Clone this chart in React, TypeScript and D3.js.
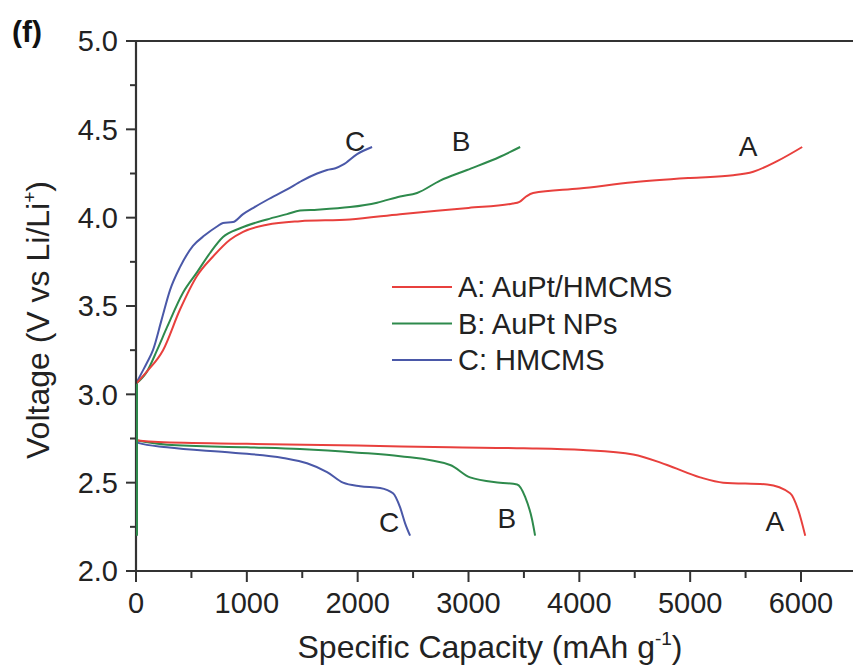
import React from "react";
import * as d3 from "d3";

// Charge curves (capacity mAh/g, voltage V)
const chargeA: [number, number][] = [
  [0, 3.06], [100, 3.13], [244, 3.25], [397, 3.48], [550, 3.67], [695, 3.78], [848, 3.875],
  [966, 3.92], [1182, 3.96], [1480, 3.98], [1931, 3.99], [2383, 4.02], [3000, 4.055],
  [3400, 4.08], [3460, 4.09], [3520, 4.12], [3583, 4.14], [4000, 4.165], [4486, 4.2],
  [5000, 4.225], [5388, 4.24], [5569, 4.26], [5785, 4.32], [6011, 4.4],
];
const chargeB: [number, number][] = [
  [0, 3.06], [100, 3.13], [190, 3.25], [280, 3.38], [424, 3.575], [550, 3.69],
  [668, 3.8], [785, 3.89], [939, 3.94], [1182, 3.99], [1363, 4.02], [1480, 4.04],
  [1634, 4.045], [1931, 4.06], [2175, 4.085], [2383, 4.12], [2536, 4.14], [2744, 4.21],
  [2987, 4.27], [3285, 4.345], [3466, 4.4],
];
const chargeC: [number, number][] = [
  [0, 3.06], [50, 3.12], [100, 3.18], [153, 3.25], [230, 3.42], [307, 3.59], [397, 3.72],
  [514, 3.84], [620, 3.9], [731, 3.95], [785, 3.97], [875, 3.975], [966, 4.02], [1070, 4.06],
  [1182, 4.1], [1363, 4.16], [1500, 4.21], [1634, 4.25], [1724, 4.27], [1800, 4.28],
  [1868, 4.3], [1995, 4.36], [2130, 4.4],
];
// Green segment drawn along the voltage axis at zero capacity
const verticalB: [number, number][] = [[0, 2.2], [0, 3.06]];

// Discharge curves
const dischargeA: [number, number][] = [
  [0, 2.74], [200, 2.73], [1000, 2.72], [2000, 2.71], [2834, 2.7], [3500, 2.695],
  [4034, 2.685], [4486, 2.66], [4792, 2.6], [5090, 2.53], [5298, 2.5], [5695, 2.49],
  [5902, 2.44], [5975, 2.345], [6038, 2.2],
];
const dischargeB: [number, number][] = [
  [0, 2.74], [280, 2.715], [1000, 2.7], [1480, 2.69], [2000, 2.67], [2383, 2.65],
  [2834, 2.6], [3014, 2.53], [3285, 2.5], [3439, 2.49], [3511, 2.42], [3574, 2.29], [3601, 2.2],
];
const dischargeC: [number, number][] = [
  [0, 2.74], [20, 2.725], [280, 2.7], [875, 2.67], [1327, 2.64], [1543, 2.61], [1724, 2.56],
  [1868, 2.5], [2022, 2.48], [2202, 2.47], [2319, 2.44], [2383, 2.36], [2428, 2.27], [2473, 2.2],
];

const seriesNames = ["A: AuPt/HMCMS", "B: AuPt NPs", "C: HMCMS"];
const seriesColors = ["#e8403d", "#2e8a4c", "#4a58a8"];
const xTicks = [0, 1000, 2000, 3000, 4000, 5000, 6000];
const xMinor = [500, 1500, 2500, 3500, 4500, 5500];
const yTicks = [2.0, 2.5, 3.0, 3.5, 4.0, 4.5, 5.0];
const yMinor = [2.25, 2.75, 3.25, 3.75, 4.25, 4.75];

// Curve labels: [text, capacity, voltage]
const curveLabels: [string, number, number][] = [
  ["C", 1976, 4.434], ["B", 2933, 4.434], ["A", 5522, 4.406],
  ["C", 2283, 2.277], ["B", 3347, 2.3], ["A", 5765, 2.283],
];

const FONT = "'Liberation Sans', Arial, Helvetica, sans-serif";

export default function App() {
  const W = 853, H = 666;
  const x = d3.scaleLinear().domain([0, 6000]).range([136, 801]);
  const y = d3.scaleLinear().domain([2, 5]).range([571, 41]);
  const smooth = d3
    .line<[number, number]>()
    .x((d) => x(d[0]))
    .y((d) => y(d[1]))
    .curve(d3.curveMonotoneX);
  const straight = d3
    .line<[number, number]>()
    .x((d) => x(d[0]))
    .y((d) => y(d[1]));

  const curves: { data: [number, number][]; color: string }[] = [
    { data: chargeC, color: seriesColors[2] },
    { data: dischargeC, color: seriesColors[2] },
    { data: chargeB, color: seriesColors[1] },
    { data: dischargeB, color: seriesColors[1] },
    { data: chargeA, color: seriesColors[0] },
    { data: dischargeA, color: seriesColors[0] },
  ];

  const axisColor = "#333";
  const textColor = "#222";
  const x0 = x(0);
  const yBot = y(2);
  const yTop = y(5);

  return (
    <svg
      width={W}
      height={H}
      style={{ position: "absolute", left: 0, top: 0, background: "#fff" }}
      fontFamily={FONT}
    >
      <rect x={0} y={0} width={W} height={H} fill="#fff" />
      {/* curves */}
      {curves.map((c, i) => (
        <path key={i} d={smooth(c.data) || ""} fill="none" stroke={c.color} strokeWidth={2} />
      ))}
      {/* axes */}
      <line x1={x0} x2={W + 5} y1={yTop} y2={yTop} stroke={axisColor} strokeWidth={2.2} />
      <line x1={x0} x2={W + 5} y1={yBot} y2={yBot} stroke={axisColor} strokeWidth={2.2} />
      <line x1={x0} x2={x0} y1={yTop - 1} y2={yBot + 1} stroke={axisColor} strokeWidth={2.2} />
      <path d={straight(verticalB) || ""} fill="none" stroke={seriesColors[1]} strokeWidth={2} transform="translate(1,0)" />
      {yTicks.map((t) => (
        <g key={"yt" + t}>
          <line x1={x0 - 10} x2={x0} y1={y(t)} y2={y(t)} stroke={axisColor} strokeWidth={2} />
          <text x={118} y={y(t)} dy="0.36em" textAnchor="end" fontSize={29} fill={textColor}>
            {t.toFixed(1)}
          </text>
        </g>
      ))}
      {yMinor.map((t) => (
        <line key={"ym" + t} x1={x0 - 6} x2={x0} y1={y(t)} y2={y(t)} stroke={axisColor} strokeWidth={2} />
      ))}
      {xTicks.map((t) => (
        <g key={"xt" + t}>
          <line x1={x(t)} x2={x(t)} y1={yBot} y2={yBot + 11} stroke={axisColor} strokeWidth={2} />
          <text x={x(t)} y={613} textAnchor="middle" fontSize={29} fill={textColor}>
            {t}
          </text>
        </g>
      ))}
      {xMinor.map((t) => (
        <line key={"xm" + t} x1={x(t)} x2={x(t)} y1={yBot} y2={yBot + 7} stroke={axisColor} strokeWidth={2} />
      ))}
      {/* axis titles */}
      <text x={490} y={658} textAnchor="middle" fontSize={32} fill={textColor}>
        Specific Capacity (mAh g
        <tspan fontSize={19} dy={-13}>-1</tspan>
        <tspan dy={13}>)</tspan>
      </text>
      <text
        transform="translate(49,320) rotate(-90)"
        textAnchor="middle"
        fontSize={32}
        fill={textColor}
      >
        Voltage (V vs Li/Li
        <tspan fontSize={19} dy={-13}>+</tspan>
        <tspan dy={13}>)</tspan>
      </text>
      {/* panel label */}
      <text x={12} y={42} fontSize={30} fontWeight="bold" fill="#111">
        (f)
      </text>
      {/* curve labels */}
      {curveLabels.map(([s, cx, cy], i) => (
        <text key={"cl" + i} x={x(cx)} y={y(cy)} dy="0.36em" textAnchor="middle" fontSize={28} fill={textColor}>
          {s}
        </text>
      ))}
      {/* legend */}
      {seriesNames.map((n, i) => {
        const ly = 287 + i * 36.5;
        return (
          <g key={"lg" + i}>
            <line x1={392} x2={452} y1={ly} y2={ly} stroke={seriesColors[i]} strokeWidth={2} />
            <text x={458} y={ly} dy="0.36em" fontSize={29} fill={textColor}>
              {n}
            </text>
          </g>
        );
      })}
    </svg>
  );
}
